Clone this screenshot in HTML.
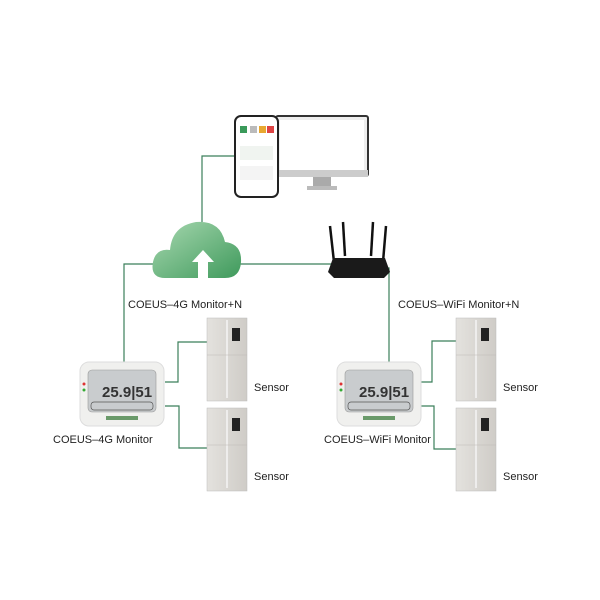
<!DOCTYPE html>
<html><head><meta charset="utf-8"><style>body{margin:0;background:#fff}svg{display:block}text{font-family:"Liberation Sans",sans-serif;font-size:11px;fill:#222}</style></head><body>
<svg width="600" height="600" viewBox="0 0 600 600">
<defs>
<linearGradient id="cl" x1="0" y1="0" x2="1" y2="1"><stop offset="0" stop-color="#a8d8b0"/><stop offset="1" stop-color="#3f9a5c"/></linearGradient>
<linearGradient id="fr" x1="0" y1="0" x2="1" y2="0"><stop offset="0" stop-color="#e4e2de"/><stop offset="1" stop-color="#cfccc7"/></linearGradient>
<g id="fridge"><rect x="0" y="0" width="40" height="83" fill="url(#fr)" stroke="#bbb" stroke-width="0.5"/><line x1="20" y1="2" x2="20" y2="80" stroke="#f4f4f4" stroke-width="1.5"/><line x1="0" y1="37" x2="40" y2="37" stroke="#bdbab5" stroke-width="0.6"/><rect x="25" y="10" width="8" height="13" fill="#222"/></g>
<g id="mon"><rect x="0" y="0" width="84" height="64" rx="9" fill="#f0f0ee" stroke="#ddd"/><rect x="8" y="8" width="68" height="42" rx="4" fill="#c9ccce" stroke="#999" stroke-width="0.6"/><text x="22" y="35" style="font-size:15px;font-weight:bold;fill:#333">25.9|51</text><rect x="11" y="40" width="62" height="8" rx="3" fill="none" stroke="#555" stroke-width="0.7"/><circle cx="4" cy="22" r="1.5" fill="#d33"/><circle cx="4" cy="28" r="1.5" fill="#3a3"/><rect x="26" y="54" width="32" height="4" fill="#6a9a6a"/></g>
</defs>
<g fill="none" stroke="#3b7f5a" stroke-width="1.2">
<polyline points="236,156 202,156 202,222"/>
<polyline points="160,264 124,264 124,362"/>
<polyline points="238,264 332,264"/>
<polyline points="386,268 389,268 389,362"/>
<polyline points="165,382 178,382 178,342 207,342"/>
<polyline points="165,406 179,406 179,448 207,448"/>
<polyline points="420,382 432,382 432,341 456,341"/>
<polyline points="420,406 434,406 434,449 456,449"/>
</g>
<!-- monitor screen -->
<rect x="276" y="116" width="92" height="60" rx="2" fill="#eee" stroke="#333" stroke-width="2"/>
<rect x="280" y="120" width="84" height="50" fill="#fff"/>
<rect x="276" y="170" width="92" height="7" fill="#ccc"/>
<rect x="313" y="177" width="18" height="10" fill="#aaa"/><rect x="307" y="186" width="30" height="4" fill="#bbb"/>
<!-- phone -->
<rect x="235" y="116" width="43" height="81" rx="6" fill="#fff" stroke="#222" stroke-width="2"/>
<rect x="240" y="126" width="7" height="7" fill="#3a9a5a"/><rect x="250" y="126" width="7" height="7" fill="#bbb"/><rect x="259" y="126" width="7" height="7" fill="#e8a830"/><rect x="267" y="126" width="7" height="7" fill="#d44"/>
<rect x="240" y="146" width="33" height="14" fill="#f0f4f0"/><rect x="240" y="166" width="33" height="14" fill="#f4f4f4"/>
<!-- cloud -->
<path d="M165,278 Q150,278 153,262 Q156,248 170,250 Q172,226 196,222 Q220,220 225,242 Q242,244 241,262 Q240,278 225,278 Z" fill="url(#cl)"/>
<path d="M198,278 V262 H192 L203,250 L214,262 H208 V278 Z" fill="#fff"/>
<!-- router -->
<g stroke="#111" stroke-width="2.5"><line x1="334" y1="262" x2="330" y2="226"/><line x1="345" y1="256" x2="343" y2="222"/><line x1="371" y1="256" x2="373" y2="222"/><line x1="383" y1="262" x2="386" y2="226"/></g>
<path d="M333,258 L385,258 L390,272 L384,278 L334,278 L328,272 Z" fill="#1a1a1a"/>
<use href="#fridge" x="207" y="318"/><use href="#fridge" x="207" y="408"/>
<use href="#fridge" x="456" y="318"/><use href="#fridge" x="456" y="408"/>
<use href="#mon" x="80" y="362"/><use href="#mon" x="337" y="362"/>
<text x="128" y="308">COEUS–4G Monitor+N</text>
<text x="398" y="308">COEUS–WiFi Monitor+N</text>
<text x="53" y="443">COEUS–4G Monitor</text>
<text x="324" y="443">COEUS–WiFi Monitor</text>
<text x="254" y="391">Sensor</text><text x="254" y="480">Sensor</text>
<text x="503" y="391">Sensor</text><text x="503" y="480">Sensor</text>
</svg>
</body></html>
